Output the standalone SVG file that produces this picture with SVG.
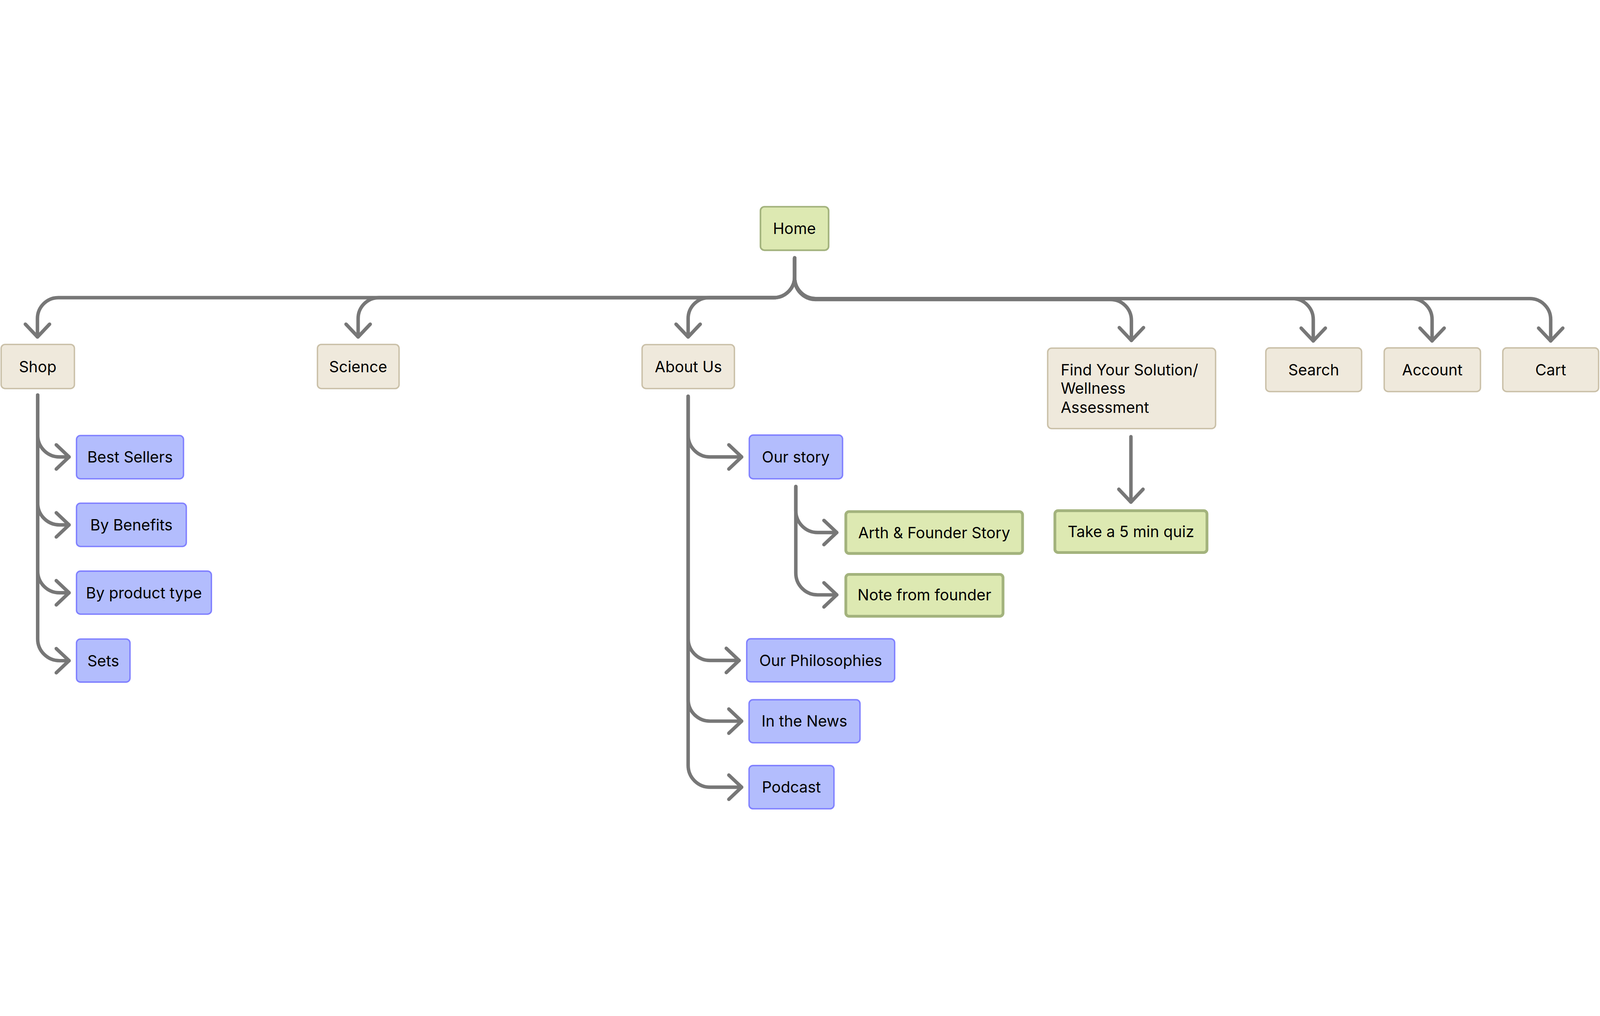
<svg xmlns="http://www.w3.org/2000/svg" width="6880" height="2601" viewBox="0 0 6880 2601">
<defs>
<style>
:root{width:100vw;height:100vh}
.tan{fill:#EFE9DC;stroke:#CAC0A8;stroke-width:6}
.blue{fill:#B3BDFD;stroke:#8080FF;stroke-width:6}
.green{fill:#DDE9B2;stroke:#A3B37D;stroke-width:7}
.green2{fill:#DDE9B2;stroke:#A3B37D;stroke-width:12}
text{font-family:Inter,"Noto Sans","Liberation Sans",sans-serif;font-size:66px;fill:#000}
.c{text-anchor:middle}
.conn path{fill:none;stroke:#777777;stroke-width:15;stroke-linecap:round;stroke-linejoin:round}
</style>
<marker id="ah" markerUnits="userSpaceOnUse" markerWidth="160" markerHeight="160" viewBox="-80 -80 160 160" refX="0" refY="0" orient="auto" overflow="visible">
<path d="M-55,-52 L0,0 L-55,52" fill="none" stroke="#777777" stroke-width="15" stroke-linecap="round" stroke-linejoin="round"/>
</marker>
</defs>
<rect width="6880" height="2601" fill="#FFFFFF"/>
<g class="conn">
<path marker-end="url(#ah)" d="M3417,225 V306 A90,90 0 0 1 3327,396 H251 A90,90 0 0 0 161,486 V565"/>
<path marker-end="url(#ah)" d="M3417,225 V306 A90,90 0 0 1 3327,396 H1630 A90,90 0 0 0 1540,486 V565"/>
<path marker-end="url(#ah)" d="M3417,225 V306 A90,90 0 0 1 3327,396 H3049 A90,90 0 0 0 2959,486 V565"/>
<path marker-end="url(#ah)" d="M3417,225 V314 A90,90 0 0 0 3507,404 H4775 A90,90 0 0 1 4865,494 V580"/>
<path marker-end="url(#ah)" d="M3417,225 V310 A90,90 0 0 0 3507,400 H5557 A90,90 0 0 1 5647,490 V582"/>
<path marker-end="url(#ah)" d="M3417,225 V310 A90,90 0 0 0 3507,400 H6068 A90,90 0 0 1 6158,490 V582"/>
<path marker-end="url(#ah)" d="M3417,225 V310 A90,90 0 0 0 3507,400 H6578 A90,90 0 0 1 6668,490 V582"/>
<path marker-end="url(#ah)" d="M162,815 V987 A94,94 0 0 0 256,1081 H297"/>
<path marker-end="url(#ah)" d="M162,815 V1279 A94,94 0 0 0 256,1373 H297"/>
<path marker-end="url(#ah)" d="M162,815 V1571 A94,94 0 0 0 256,1665 H297"/>
<path marker-end="url(#ah)" d="M162,815 V1863 A94,94 0 0 0 256,1957 H297"/>
<path marker-end="url(#ah)" d="M2959,820 V987 A94,94 0 0 0 3053,1081 H3189"/>
<path marker-end="url(#ah)" d="M2959,820 V1862 A94,94 0 0 0 3053,1956 H3178"/>
<path marker-end="url(#ah)" d="M2959,820 V2123 A94,94 0 0 0 3053,2217 H3189"/>
<path marker-end="url(#ah)" d="M2959,820 V2407 A94,94 0 0 0 3053,2501 H3189"/>
<path marker-end="url(#ah)" d="M3422,1208 V1312 A94,94 0 0 0 3516,1406 H3598"/>
<path marker-end="url(#ah)" d="M3422,1208 V1580 A94,94 0 0 0 3516,1674 H3598"/>
<path marker-end="url(#ah)" d="M4863,994 V1275"/>
</g>
<g id="home"><rect class="green" x="3270" y="5" width="293" height="187" rx="17"/><text class="c" x="3416" y="123">Home</text></g>
<g id="shop"><rect class="tan" x="5" y="597" width="315" height="190" rx="17"/><text class="c" x="162" y="716">Shop</text></g>
<g id="science"><rect class="tan" x="1365" y="597" width="351" height="190" rx="17"/><text class="c" x="1540" y="716">Science</text></g>
<g id="about-us"><rect class="tan" x="2761" y="598" width="397" height="189" rx="17"/><text class="c" x="2960" y="716">About Us</text></g>
<g id="find-your-solution"><rect class="tan" x="4505" y="613" width="722" height="346" rx="17"/><text x="4561" y="730">Find Your Solution/</text><text x="4561" y="809">Wellness</text><text x="4561" y="891">Assessment</text></g>
<g id="search"><rect class="tan" x="5443" y="612" width="412" height="188" rx="17"/><text class="c" x="5649" y="730">Search</text></g>
<g id="account"><rect class="tan" x="5952" y="612" width="414" height="188" rx="17"/><text class="c" x="6159" y="730">Account</text></g>
<g id="cart"><rect class="tan" x="6462" y="612" width="412" height="188" rx="17"/><text class="c" x="6668" y="730">Cart</text></g>
<g id="best-sellers"><rect class="blue" x="329" y="989" width="460" height="186" rx="17"/><text class="c" x="559" y="1105">Best Sellers</text></g>
<g id="by-benefits"><rect class="blue" x="329" y="1280" width="472" height="186" rx="17"/><text class="c" x="565" y="1397">By Benefits</text></g>
<g id="by-product-type"><rect class="blue" x="329" y="1572" width="580" height="185" rx="17"/><text class="c" x="619" y="1689">By product type</text></g>
<g id="sets"><rect class="blue" x="329" y="1864" width="230" height="185" rx="17"/><text class="c" x="444" y="1981">Sets</text></g>
<g id="our-story"><rect class="blue" x="3222" y="987" width="401" height="188" rx="17"/><text class="c" x="3422" y="1105">Our story</text></g>
<g id="arth-founder-story"><rect class="green2" x="3637" y="1316" width="760" height="180" rx="14"/><text class="c" x="4017" y="1430">Arth &amp; Founder Story</text></g>
<g id="note-from-founder"><rect class="green2" x="3637" y="1586" width="676" height="180" rx="14"/><text class="c" x="3975" y="1698">Note from founder</text></g>
<g id="our-philosophies"><rect class="blue" x="3211" y="1863" width="636" height="185" rx="17"/><text class="c" x="3529" y="1980">Our Philosophies</text></g>
<g id="in-the-news"><rect class="blue" x="3221" y="2125" width="477" height="185" rx="17"/><text class="c" x="3459" y="2241">In the News</text></g>
<g id="podcast"><rect class="blue" x="3221" y="2408" width="365" height="186" rx="17"/><text class="c" x="3403" y="2525">Podcast</text></g>
<g id="take-quiz"><rect class="green2" x="4536" y="1312" width="654" height="180" rx="14"/><text class="c" x="4863" y="1426">Take a 5 min quiz</text></g>
</svg>
